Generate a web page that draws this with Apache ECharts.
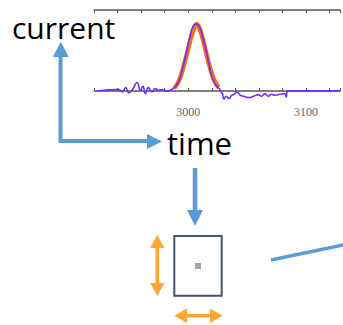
<!DOCTYPE html>
<html>
<head>
<meta charset="utf-8">
<script src="https://cdn.jsdelivr.net/npm/echarts@6/dist/echarts.min.js"></script>
<style>html,body{margin:0;padding:0;background:#fff}#c{width:343px;height:325px}</style>
</head>
<body>
<div id="c"></div>
<script>
// measured signal (time, current)
var measuredTime = [2922.5,2941.2,2944.0,2946.8,2949.6,2952.3,2956.5,2959.3,2961.5,2963.5,2966.3,2969.1,2971.9,2974.6,2977.4,2981.6,2984.4,2987.2,2990.0,2992.8,2995.5,2998.3,3001.1,3003.9,3006.7,3009.5,3012.3,3015.1,3017.8,3020.6,3023.4,3026.2,3029.0,3030.4,3032.3,3034.6,3036.8,3038.7,3041.5,3044.3,3047.1,3051.3,3055.5,3059.6,3062.4,3065.2,3068.0,3070.8,3073.6,3077.8,3081.9,3083.3,3084.2,3129.3];
var measuredCurrent = [0,0.02,-0.015,0.05,-0.03,0.01,0.125,0.01,0.07,-0.04,0.05,-0.015,0.035,0.01,0.02,0,0.01,0.035,0.085,0.185,0.36,0.56,0.785,0.96,1.0,0.96,0.81,0.61,0.385,0.185,0.085,0.035,-0.04,-0.125,-0.08,-0.115,-0.065,-0.055,-0.015,-0.065,-0.08,-0.1,-0.08,-0.055,-0.08,-0.04,-0.08,-0.05,-0.065,-0.05,-0.04,-0.09,0,0];
// fitted peak
var fitTime = [2988,2991,2994,2997,3000,3003,3006,3007,3009,3012,3015,3018,3021,3024,3026];
var fitCurrent = [0.04,0.11,0.24,0.43,0.63,0.84,0.98,1.0,0.96,0.8,0.59,0.38,0.21,0.1,0.05];
// axis ticks
var tickStep = 20;
var labelValues = [3000,3100];
// diagram texts
var yLabelText = 'current';
var xLabelText = 'time';

function zip(a,b){return a.map(function(v,i){return [v,b[i]];});}

var chart = echarts.init(document.getElementById('c'), null, {renderer:'svg'});
var blue = '#5b9bd5', orange = '#ffa534';
var xAxisCommon = {
  type:'value', min:2920, max:3129, interval:tickStep,
  axisLine:{show:true, lineStyle:{color:'#555', width:1.5}},
  axisTick:{show:true, inside:true, length:3, lineStyle:{color:'#555', width:1}},
  splitLine:{show:false}
};
chart.setOption({
  animation:false,
  grid:{left:94.1, right:0, top:10, height:94.3},
  xAxis:[
    Object.assign({}, xAxisCommon, {position:'bottom',
      axisLabel:{show:true, color:'#666', fontFamily:'Liberation Serif', fontSize:12, margin:2,
        formatter:function(v){return labelValues.indexOf(v) >= 0 ? String(v) : '';}}}),
    Object.assign({}, xAxisCommon, {position:'top', axisLabel:{show:false}})
  ],
  yAxis:{type:'value', min:-0.2, max:1.21, show:false, splitLine:{show:false}},
  series:[
    {type:'line', data:zip(fitTime,fitCurrent), showSymbol:false, smooth:true,
     lineStyle:{color:'#ff6a10', width:4.5}, z:2},
    {type:'line', data:zip(measuredTime,measuredCurrent), showSymbol:false, smooth:0.5,
     lineStyle:{color:'#6f2dff', width:1.6}, z:3}
  ],
  graphic:[
    {type:'text', left:12, top:12, style:{text:yLabelText, font:'30px "Open Sans"', fill:'#000'}},
    {type:'text', left:167, top:127, style:{text:xLabelText, font:'31px "Open Sans"', fill:'#000'}},
    // L-shaped axis arrow
    {type:'polyline', shape:{points:[[60.5,55],[60.5,141],[148,141]]}, style:{stroke:blue, lineWidth:4, fill:null, lineJoin:'miter'}},
    {type:'polygon', shape:{points:[[60.8,41.7],[52.8,57],[68.8,57]]}, style:{fill:blue}},
    {type:'polygon', shape:{points:[[162,141.5],[147,134],[147,149]]}, style:{fill:blue}},
    // down arrow
    {type:'line', shape:{x1:195,y1:168,x2:195,y2:211}, style:{stroke:blue, lineWidth:4.5}},
    {type:'polygon', shape:{points:[[187,210],[203,210],[195,226]]}, style:{fill:blue}},
    // box
    {type:'rect', shape:{x:174.3,y:236,width:47.4,height:59.7}, style:{fill:'#fff', stroke:'#44546a', lineWidth:2}},
    {type:'rect', shape:{x:195,y:263,width:6,height:6}, style:{fill:'#a6a6a6'}},
    // orange vertical double arrow
    {type:'line', shape:{x1:157.3,y1:246,x2:157.3,y2:285}, style:{stroke:orange, lineWidth:3.5}},
    {type:'polygon', shape:{points:[[157.3,235],[150,248],[164.6,248]]}, style:{fill:orange}},
    {type:'polygon', shape:{points:[[157.3,296],[150,283],[164.6,283]]}, style:{fill:orange}},
    // orange horizontal double arrow
    {type:'line', shape:{x1:185,y1:315.7,x2:212,y2:315.7}, style:{stroke:orange, lineWidth:3.5}},
    {type:'polygon', shape:{points:[[174.3,315.7],[187,308.5],[187,323]]}, style:{fill:orange}},
    {type:'polygon', shape:{points:[[222.7,315.7],[210,308.5],[210,323]]}, style:{fill:orange}},
    // blue connector line
    {type:'line', shape:{x1:271,y1:260,x2:345,y2:244.6}, style:{stroke:blue, lineWidth:3.5}}
  ]
});
</script>
</body>
</html>
